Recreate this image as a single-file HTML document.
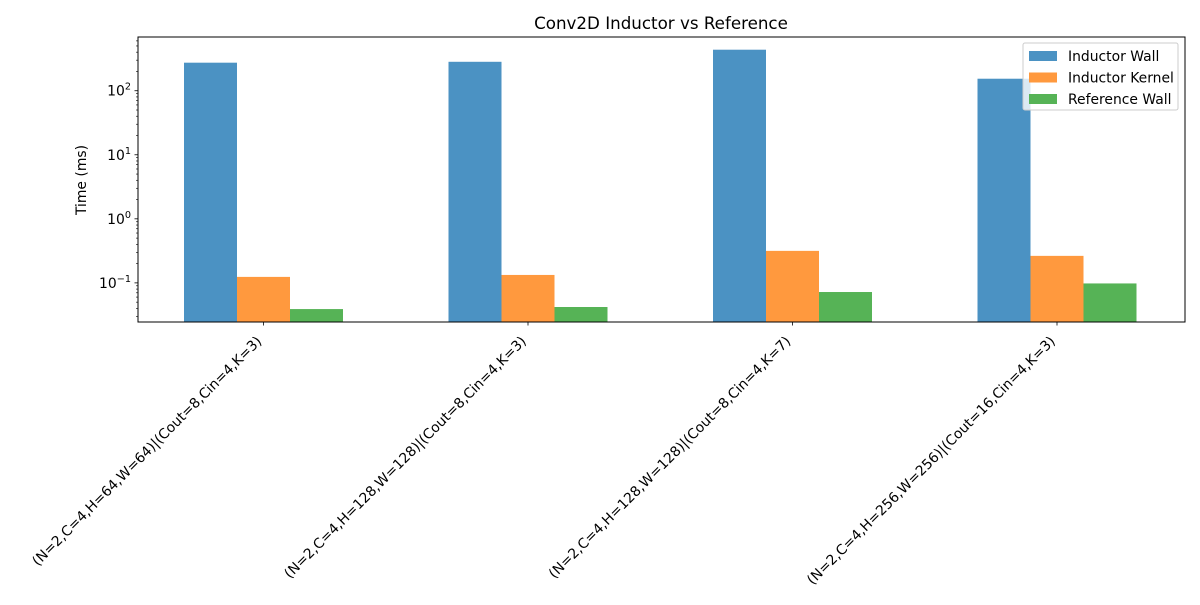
<!DOCTYPE html>
<html><head><meta charset="utf-8"><style>
body{margin:0;background:#fff}
svg text{font-family:"DejaVu Sans","Liberation Sans",sans-serif;fill:#000}
</style></head><body>
<svg id="chart" width="1200" height="600" xmlns="http://www.w3.org/2000/svg">
<rect width="1200" height="600" fill="#fff"/>
<text x="661" y="29" font-size="16.7" text-anchor="middle">Conv2D Inductor vs Reference</text>
<text x="0" y="0" font-size="13.9" text-anchor="middle" transform="translate(86,180) rotate(-90)">Time (ms)</text>
<g id="bars"></g><g id="yticks"></g><g id="xticks"></g>
<rect x="138" y="37" width="1047" height="285" fill="none" stroke="#000" stroke-width="1"/>
<g>
<rect x="1023" y="43" width="155" height="67" fill="#fff" fill-opacity="0.8" stroke="#ccc" rx="2"/>
<g id="legend-items"></g>
</g>
</svg>
<script>
const categories=["(N=2,C=4,H=64,W=64)|(Cout=8,Cin=4,K=3)","(N=2,C=4,H=128,W=128)|(Cout=8,Cin=4,K=3)","(N=2,C=4,H=128,W=128)|(Cout=8,Cin=4,K=7)","(N=2,C=4,H=256,W=256)|(Cout=16,Cin=4,K=3)"];
const inductorWall=[274,283,437,154];
const inductorKernel=[0.124,0.133,0.316,0.264];
const referenceWall=[0.039,0.042,0.072,0.098];
const seriesNames=["Inductor Wall","Inductor Kernel","Reference Wall"];
const yTickExps=[-1,0,1,2];
const NS="http://www.w3.org/2000/svg";
const colors=["#4b92c3","#ff993e","#56b356"];
const L=138,R=1185,T=37,B=322;
const logMin=Math.log10(0.0245),logMax=Math.log10(690);
function y(v){return B-(Math.log10(v)-logMin)/(logMax-logMin)*(B-T);}
function xc(i){return 263.5+264.5*i;}
const bw=53;
function mk(t,a,p){const e=document.createElementNS(NS,t);for(const k in a)e.setAttribute(k,a[k]);p.appendChild(e);return e;}
const bars=document.getElementById('bars');
[inductorWall,inductorKernel,referenceWall].forEach((s,j)=>{
 s.forEach((v,i)=>{
  const x=xc(i)+(j-1.5)*bw;
  const r=mk('rect',{x:x,y:y(v),width:bw,height:B-y(v),fill:colors[j]},bars);
  
  
 });
});
const yt=document.getElementById('yticks');
for(let e=-2;e<=2;e++){for(let m=1;m<10;m++){const v=m*Math.pow(10,e);const yy=y(v);if(yy<T||yy>B)continue;
 mk('line',{x1:L,x2:L-(m==1?3.5:2),y1:yy,y2:yy,stroke:'#000','stroke-width':m==1?0.8:0.6},yt);}}
yTickExps.forEach(e=>{const t=mk('text',{x:L-7,y:y(Math.pow(10,e))+5,'font-size':13.9,'text-anchor':'end'},yt);
 
 
 t.innerHTML='10<tspan dy="-6" font-size="9.7">'+(e<0?'\u2212'+(-e):e)+'</tspan>';});
const xt=document.getElementById('xticks');
categories.forEach((c,i)=>{const x=xc(i);
 mk('line',{x1:x,x2:x,y1:B,y2:B+3.5,stroke:'#000','stroke-width':0.8},xt);
 const t=mk('text',{x:0,y:0,'font-size':13.9,'text-anchor':'end',transform:'translate('+(x-1)+','+(B+20)+') rotate(-45)'},xt);
 
 
 t.textContent=c;});
const lg=document.getElementById('legend-items');
seriesNames.forEach((n,j)=>{const yy=51+j*21.5;
 const g=mk('g',{},lg);
 
 
 mk('rect',{x:1029,y:yy,width:28,height:10,fill:colors[j]},g);
 const t=mk('text',{x:1068,y:yy+10,'font-size':13.9},g);t.textContent=n;});
</script>
</body></html>
